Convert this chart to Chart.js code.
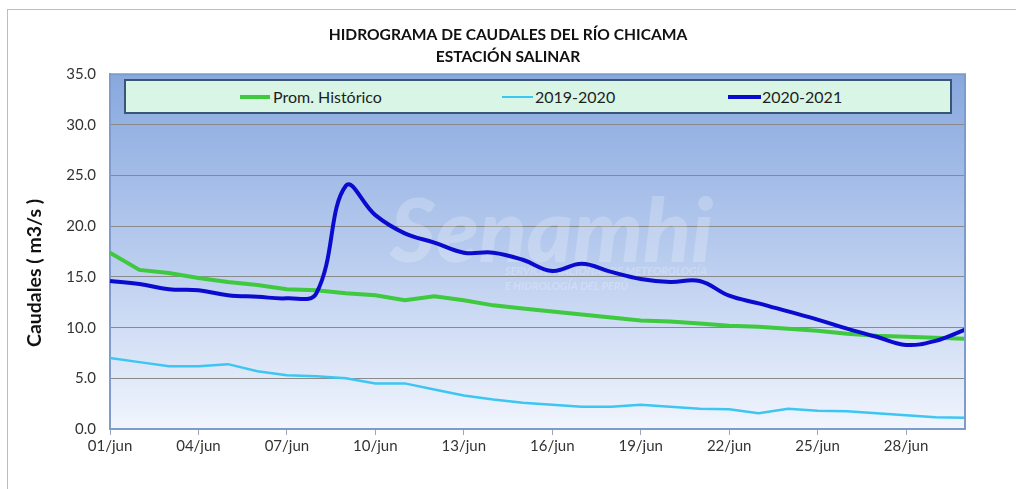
<!DOCTYPE html>
<html>
<head>
<meta charset="utf-8">
<script src="https://cdn.jsdelivr.net/npm/chart.js@4.4.1/dist/chart.umd.min.js"></script>
<style>
  body { margin: 0; background: #fff; }
  #wrap { position: relative; width: 1016px; height: 489px; overflow: hidden; }
  #frame { position: absolute; left: 7px; top: 9px; width: 1030px; height: 520px; border: 1px solid #bdbdbd; pointer-events: none; }
  #legend { position: absolute; left: 124px; top: 79px; width: 824px; height: 31px; background: #d9f5e5; border: 2px solid #3a5677;
            font-family: Lato, sans-serif; font-size: 16px; color: #1e1e1e; }
  #legend .ln { position: absolute; }
  #legend .tx { position: absolute; top: 6px; }
</style>
</head>
<body>
<div id="wrap">
  <canvas id="myChart" width="1016" height="489"></canvas>
  <div id="frame"></div>
  <div id="legend">
    <div class="ln" style="left:114px;top:14px;width:30px;height:4px;background:#3ec93e"></div>
    <div class="tx" style="left:147px">Prom. Histórico</div>
    <div class="ln" style="left:376px;top:15px;width:31px;height:2px;background:#3cc6f2"></div>
    <div class="tx" style="left:409px">2019-2020</div>
    <div class="ln" style="left:602px;top:14px;width:33px;height:4px;background:#0b0bd0"></div>
    <div class="tx" style="left:636px">2020-2021</div>
  </div>
</div>
<script>
// dias de junio
const dias = [];
for (let d = 1; d <= 30; d++) dias.push((d < 10 ? '0' : '') + d + '/jun');

// caudales (m3/s)
const promHistorico = [17.4, 15.7, 15.4, 14.9, 14.5, 14.2, 13.8, 13.7, 13.4, 13.2,
                       12.7, 13.1, 12.7, 12.2, 11.9, 11.6, 11.3, 11.0, 10.7, 10.6,
                       10.4, 10.2, 10.1, 9.9, 9.7, 9.4, 9.2, 9.1, 9.0, 8.9];
const q2019_2020 = [7.0, 6.6, 6.2, 6.2, 6.4, 5.7, 5.3, 5.2, 5.0, 4.5,
                    4.5, 3.9, 3.3, 2.9, 2.6, 2.4, 2.2, 2.2, 2.4, 2.2,
                    2.0, 1.95, 1.55, 2.0, 1.8, 1.75, 1.55, 1.35, 1.15, 1.1];
const q2020_2021 = [14.6, 14.3, 13.8, 13.7, 13.2, 13.05, 12.9, 13.4, 24.0, 21.1,
                    19.3, 18.4, 17.4, 17.4, 16.7, 15.6, 16.3, 15.5, 14.8, 14.5,
                    14.6, 13.15, 12.4, 11.6, 10.8, 9.9, 9.1, 8.3, 8.7, 9.8];
const yTicks = [0, 5, 10, 15, 20, 25, 30, 35];

const fondo = {
  id: 'fondo',
  beforeDatasetsDraw(chart) {
    const {ctx} = chart;
    ctx.save();
    // marca de agua
    ctx.fillStyle = 'rgba(255,255,255,0.22)';
    ctx.font = 'italic 900 88px Lato';
    ctx.fillText('Senamhi', 390, 262);
    ctx.font = 'italic 700 11px Lato';
    ctx.fillText('SERVICIO NACIONAL DE METEOROLOGÍA', 505, 275);
    ctx.fillText('E HIDROLOGÍA DEL PERÚ', 505, 290);
    ctx.restore();
  },
  beforeDraw(chart) {
    const {ctx, chartArea: a} = chart;
    ctx.save();
    const g = ctx.createLinearGradient(0, a.top, 0, a.bottom);
    g.addColorStop(0, '#88a8de');
    g.addColorStop(0.5, '#b7cbee');
    g.addColorStop(1, '#f1f5fd');
    ctx.fillStyle = g;
    ctx.fillRect(a.left, a.top, a.right - a.left, a.bottom - a.top);
    ctx.restore();
  },
  afterDraw(chart) {
    const {ctx, chartArea: a} = chart;
    ctx.save();
    ctx.strokeStyle = '#7e9ccb';
    ctx.lineWidth = 2;
    ctx.beginPath();
    ctx.moveTo(a.left, a.top);
    ctx.lineTo(a.right, a.top);
    ctx.lineTo(a.right, a.bottom);
    ctx.stroke();
    ctx.restore();
  }
};

const chart = new Chart(document.getElementById('myChart'), {
  type: 'line',
  data: {
    labels: dias,
    datasets: [
      { label: 'Prom. Histórico', data: promHistorico, borderColor: '#3ec93e', borderWidth: 4, tension: 0, order: 2 },
      { label: '2019-2020', data: q2019_2020, borderColor: '#3cc6f2', borderWidth: 2.5, tension: 0, order: 3 },
      { label: '2020-2021', data: q2020_2021, borderColor: '#0b0bd0', borderWidth: 4, tension: 0.4, order: 1 }
    ]
  },
  options: {
    responsive: false,
    animation: false,
    elements: { point: { radius: 0 } },
    layout: { padding: { left: 51, right: 51, top: 0, bottom: 0 } },
    plugins: {
      legend: { display: false },
      tooltip: { enabled: false },
      title: {
        display: true,
        text: ['HIDROGRAMA DE CAUDALES DEL RÍO CHICAMA', 'ESTACIÓN SALINAR'],
        font: { family: 'Lato', size: 15.6, weight: 'bold', lineHeight: 1.42 },
        color: '#111',
        padding: { top: 24, bottom: 6 }
      }
    },
    scales: {
      x: {
        offset: false,
        grid: {
          drawOnChartArea: false,
          tickLength: 6,
          color: (c) => (c.index % 3 === 0 ? '#9aa7b8' : 'rgba(0,0,0,0)')
        },
        border: { color: '#7e9ccb', width: 2 },
        ticks: {
          autoSkip: false,
          maxRotation: 0,
          padding: 2,
          color: '#333',
          font: { family: 'Lato', size: 15 },
          callback: (v, i) => (i % 3 === 0 ? dias[i] : '')
        },
        afterFit: (s) => { s.height = 60; }
      },
      y: {
        min: 0,
        max: 35,
        afterBuildTicks: (s) => { s.ticks = yTicks.map(v => ({ value: v })); },
        grid: { color: '#8a8a8a', lineWidth: 1, drawTicks: false },
        border: { color: '#7e9ccb', width: 2 },
        ticks: {
          padding: 14,
          color: '#333',
          font: { family: 'Lato', size: 15 },
          callback: (v) => v.toFixed(1)
        },
        title: {
          display: true,
          text: 'Caudales ( m3/s )         ',
          color: '#111',
          font: { family: 'Lato', size: 19.5, weight: 'bold' },
          padding: { top: -28 }
        },
        afterFit: (s) => { s.width = 59; }
      }
    }
  },
  plugins: [fondo]
});
</script>
</body>
</html>
